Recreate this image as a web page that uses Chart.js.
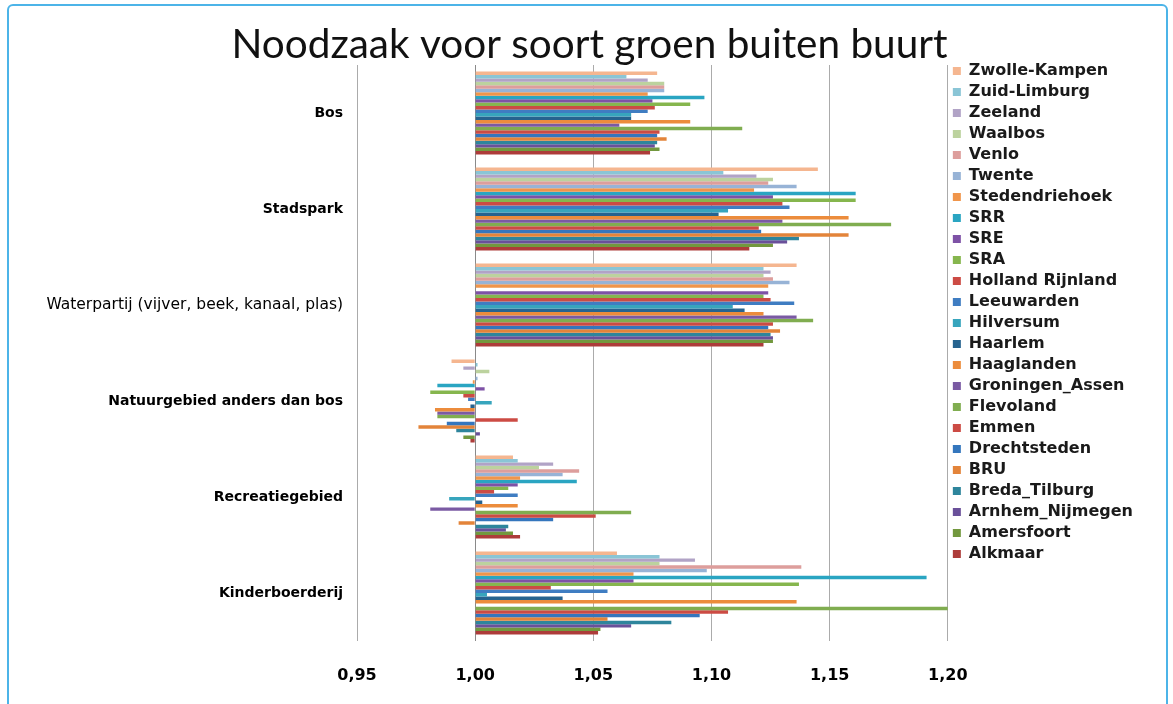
<!DOCTYPE html>
<html>
<head>
<meta charset="utf-8">
<script src="https://cdn.jsdelivr.net/npm/chart.js@4/dist/chart.umd.min.js"></script>
<style>
    body { margin: 0; background: #fff; }
    .holder { position: relative; width: 1173px; height: 704px; overflow: hidden; }
    .frame { position: absolute; left: 7px; top: 4px; width: 1157px; height: 760px; border: 2px solid #4cb4e8; border-radius: 6px; pointer-events: none; }
</style>
</head>
<body>
<div class="holder">
    <canvas id="groen"></canvas>
    <div class="frame"></div>
</div>
<script>
// categorieen en as
const categories = ["Bos", "Stadspark", "Waterpartij (vijver, beek, kanaal, plas)", "Natuurgebied anders dan bos", "Recreatiegebied", "Kinderboerderij"];
const xTickLabels = ["0,95", "1,00", "1,05", "1,10", "1,15", "1,20"];

// waarden per regio (volgorde zoals categories)
const zwolleKampen    = [1.077, 1.145, 1.136, 0.990, 1.016, 1.060];
const zuidLimburg     = [1.064, 1.105, 1.122, 1.001, 1.018, 1.078];
const zeeland         = [1.073, 1.119, 1.125, 0.995, 1.033, 1.093];
const waalbos         = [1.080, 1.126, 1.122, 1.006, 1.027, 1.078];
const venlo           = [1.080, 1.124, 1.126, 1.000, 1.044, 1.138];
const twente          = [1.080, 1.136, 1.133, 1.001, 1.037, 1.098];
const stedendriehoek  = [1.073, 1.118, 1.124, 0.999, 1.019, 1.067];
const srr             = [1.097, 1.161, null,  0.984, 1.043, 1.191];
const sre             = [1.075, 1.126, 1.124, 1.004, 1.018, 1.067];
const sra             = [1.091, 1.161, 1.122, 0.981, 1.014, 1.137];
const hollandRijnland = [1.076, 1.130, 1.125, 0.995, 1.008, 1.032];
const leeuwarden      = [1.073, 1.133, 1.135, 0.997, 1.018, 1.056];
const hilversum       = [1.066, 1.107, 1.109, 1.007, 0.989, 1.005];
const haarlem         = [1.066, 1.103, 1.114, 0.998, 1.003, 1.037];
const haaglanden      = [1.091, 1.158, 1.122, 0.983, 1.018, 1.136];
const groningenAssen  = [1.061, 1.130, 1.136, 0.984, 0.981, null];
const flevoland       = [1.113, 1.176, 1.143, 0.984, 1.066, 1.200];
const emmen           = [1.078, 1.120, 1.126, 1.018, 1.051, 1.107];
const drechtsteden    = [1.077, 1.121, 1.124, 0.988, 1.033, 1.095];
const bru             = [1.081, 1.158, 1.129, 0.976, 0.993, 1.056];
const bredaTilburg    = [1.077, 1.137, 1.125, 0.992, 1.014, 1.083];
const arnhemNijmegen  = [1.076, 1.132, 1.126, 1.002, 1.013, 1.066];
const amersfoort      = [1.078, 1.126, 1.126, 0.995, 1.016, 1.053];
const alkmaar         = [1.074, 1.116, 1.122, 0.998, 1.019, 1.052];

const regions = ["Zwolle-Kampen", "Zuid-Limburg", "Zeeland", "Waalbos", "Venlo", "Twente", "Stedendriehoek", "SRR", "SRE", "SRA",
    "Holland Rijnland", "Leeuwarden", "Hilversum", "Haarlem", "Haaglanden", "Groningen_Assen", "Flevoland", "Emmen",
    "Drechtsteden", "BRU", "Breda_Tilburg", "Arnhem_Nijmegen", "Amersfoort", "Alkmaar"];
const regionValues = [zwolleKampen, zuidLimburg, zeeland, waalbos, venlo, twente, stedendriehoek, srr, sre, sra,
    hollandRijnland, leeuwarden, hilversum, haarlem, haaglanden, groningenAssen, flevoland, emmen,
    drechtsteden, bru, bredaTilburg, arnhemNijmegen, amersfoort, alkmaar];

// kleuren
const regionColors = ["#f5b690", "#8ac5d6", "#b1a3c6", "#bcd29e", "#dd9e9c", "#97b3d6", "#f0954a", "#2aa5c2", "#7e52a6", "#86b64e",
    "#cc4b44", "#3f7dc2", "#37a5bd", "#26638f", "#ec8c3c", "#7a5aa3", "#80ad50", "#cc4b44",
    "#3476bd", "#e3843a", "#2e859c", "#6a509a", "#72983e", "#ad3c3a"];

const datasets = regions.map((name, i) => ({
    label: name,
    data: regionValues[i],
    backgroundColor: regionColors[i],
    base: 1,
    borderWidth: 0,
    categoryPercentage: 0.865,
    barPercentage: 1
}));

const boldFont = { family: "DejaVu Sans", size: 14, weight: "bold" };

new Chart(document.getElementById("groen"), {
    type: "bar",
    data: { labels: categories, datasets: datasets },
    options: {
        indexAxis: "y",
        responsive: true,
        maintainAspectRatio: false,
        animation: false,
        layout: { padding: { left: 36, right: 30, top: 0, bottom: 18 } },
        plugins: {
            title: {
                display: true,
                text: "Noodzaak voor soort groen buiten buurt",
                color: "#111",
                font: { family: "Lato", size: 40.5, weight: "normal", lineHeight: 1 },
                padding: { top: 24.5, bottom: 0 }
            },
            legend: {
                position: "right",
                align: "start",
                title: { display: true, text: "", font: { size: 12 }, padding: { top: 43.6, bottom: 0 } },
                labels: {
                    boxWidth: 8,
                    boxHeight: 8,
                    padding: 5,
                    color: "#1a1a1a",
                    font: { family: "DejaVu Sans", size: 16, weight: "bold" }
                }
            },
            tooltip: { enabled: false }
        },
        scales: {
            x: {
                min: 0.95,
                max: 1.2,
                ticks: {
                    stepSize: 0.05,
                    padding: 25,
                    color: "#000",
                    font: { family: "DejaVu Sans", size: 16, weight: "bold" },
                    callback: (v, i) => xTickLabels[i]
                },
                grid: { drawTicks: false, color: (c) => c.index === 1 ? "#8a8a8a" : "#ababab" },
                border: { display: false },
                afterFit: (scale) => { scale.height = 45; }
            },
            y: {
                ticks: {
                    padding: 14,
                    color: "#000",
                    font: (c) => c.index === 2 ? { family: "DejaVu Sans", size: 15.5, weight: "normal" } : boldFont
                },
                grid: { display: false, drawTicks: false },
                border: { display: false },
                afterFit: (scale) => { scale.width = 321; }
            }
        }
    }
});
</script>
</body>
</html>
